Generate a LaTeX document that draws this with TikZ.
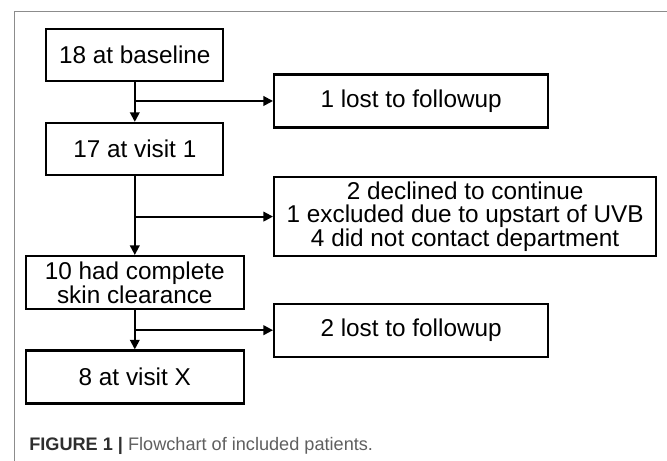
\documentclass[tikz,border=0pt]{standalone}
\usepackage{fontspec}
\setsansfont{Liberation Sans}
\usetikzlibrary{arrows.meta}
\definecolor{framegray}{HTML}{8C8C8C}
\definecolor{capdark}{HTML}{2E2E2E}
\definecolor{capgray}{HTML}{5F5F5F}

\begin{document}
\begin{tikzpicture}[
  font=\sffamily,>={Triangle[length=2.4mm,width=2.4mm]},
  box/.style={draw, line width=1.6pt, align=center, inner sep=2pt, font=\sffamily\fontsize{17.3}{16}\selectfont},
  mainbox/.style={box, minimum width=4.425cm, minimum height=1.3cm},
  widebox/.style={box, minimum width=5.45cm, minimum height=1.325cm},
  sidebox/.style={box, anchor=west, minimum width=6.85cm, minimum height=1.325cm},
  flow/.style={->, line width=1.4pt},
  captext/.style={font=\sffamily\fontsize{12.9}{14}\selectfont, color=capgray, anchor=base west, inner sep=0pt},
]
\useasboundingbox (0,0) rectangle (16.675,11.525);
% page frame
\draw[framegray, line width=0.7pt] (0.35,0) -- (0.35,11.225) -- (16.675,11.225);
% main column
\node[mainbox] (base) at (3.37,10.15) {18 at baseline};
\node[mainbox] (v1) at (3.37,7.8) {17 at visit 1};
\node[widebox] (clear) at (3.37,4.46) {10 had complete\\skin clearance};
\node[widebox] (vx) at (3.37,2.1) {8 at visit X};
% drop-outs
\node[sidebox] (lost1) at (6.825,9.0) {1 lost to followup};
\node[sidebox, minimum width=9.55cm, minimum height=1.975cm] (drop) at (6.825,6.11) {2 declined to continue\\1 excluded due to upstart of UVB\\4 did not contact department};
\node[sidebox] (lost2) at (6.825,3.27) {2 lost to followup};
\draw[flow] (base) -- (v1);
\draw[flow] (base |- lost1) -- (lost1);
\draw[flow] (v1) -- (clear);
\draw[flow] (v1 |- drop) -- (drop);
\draw[flow] (clear) -- (vx);
\draw[flow] (clear |- lost2) -- (lost2);
% caption
\node[captext] (caption) at (0.725,0.26) {\textcolor{capdark}{\bfseries FIGURE 1 |} Flowchart of included patients.};
\end{tikzpicture}
\end{document}
